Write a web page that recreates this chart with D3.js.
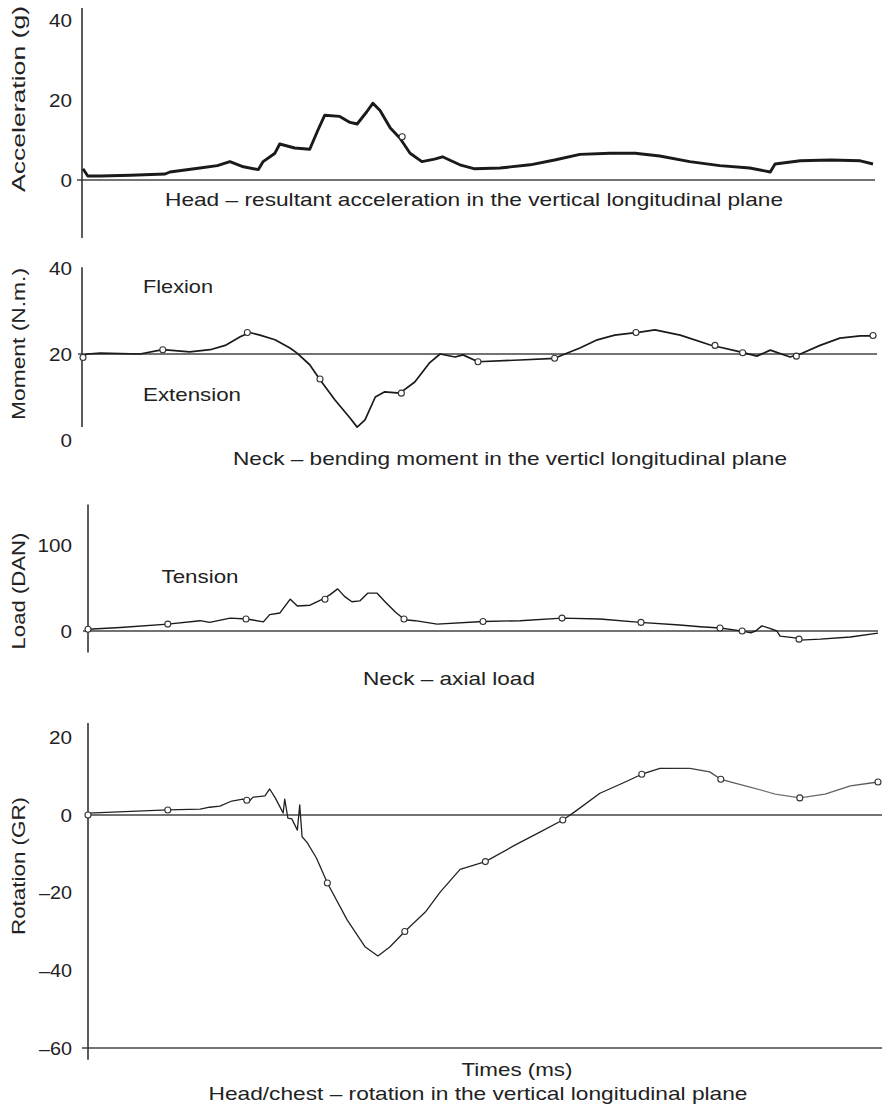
<!DOCTYPE html>
<html>
<head>
<meta charset="utf-8">
<script src="https://cdn.jsdelivr.net/npm/d3@7"></script>
<style>
  body { margin: 0; background: #fff; }
  text { font-family: "Liberation Sans", Arial, Helvetica, sans-serif; fill: #222; }
</style>
</head>
<body>
<div id="chart"></div>
<script>
// time is in arbitrary units (0-100), no ticks on the x axis in the original
const accel = [[0,2.8],[0.6,1],[2.2,1],[6,1.2],[10.4,1.5],[11,2],[14.8,3],[17,3.6],[18.6,4.6],[20.3,3.3],
  [22.2,2.6],[22.8,4.6],[24.3,6.7],[24.9,9],[26.8,8],[28.7,7.7],[29.7,12.3],[30.6,16.2],[32.5,15.9],
  [33.8,14.4],[34.7,14],[35.9,17],[36.7,19.2],[37.6,17.4],[38.9,13],[40.1,10.5],[41.4,6.7],[42.9,4.6],
  [44.5,5.2],[45.5,5.8],[47.7,3.8],[49.6,2.8],[52.8,3],[56.6,3.8],[59.7,5],[62.9,6.4],[66.7,6.7],
  [69.9,6.7],[73,6],[76.8,4.6],[80.6,3.6],[84.4,3],[87,2],[87.6,4],[90.8,4.8],[94.6,5],[98.4,4.8],[100,4]];
const accelMarks = [[40.4,10.8]];

const moment = [[0,19.5],[0.5,20],[2.2,20.2],[7.2,20],[10.1,21],[13.5,20.5],[16.1,21],[18,22],[19.9,24],
  [21.1,25],[22.4,24.4],[24.3,23.3],[26.2,21.4],[27.1,20.2],[28.7,17.5],[30,14],[31.9,9.3],[33.8,5.1],
  [34.7,3],[35.7,4.7],[37,10],[38.2,11.2],[40.1,10.9],[42,13.5],[43.9,18],[45.2,20],[47.1,19.3],
  [48.1,19.8],[50,18.2],[55.3,18.6],[59.7,19],[61,20],[62.9,21.4],[65.1,23.3],[67.3,24.4],[70.5,25.1],
  [72.4,25.6],[75.6,24.4],[79.4,22.1],[83.2,20.5],[85.3,19.5],[87,20.9],[89.5,19.3],[90.8,20],
  [93.3,22],[95.8,23.7],[98.4,24.2],[100.4,24.2]];
const momentMarks = [[0,19.2],[10.1,21],[20.8,25],[30,14.2],[40.3,10.9],[50,18.2],[59.7,19],[70,25],
  [80,22],[83.5,20.3],[90.3,19.5],[100,24.3]];

const load = [[0,2],[4.1,4],[10.1,8],[14.2,12],[15.4,10],[18,15],[20.1,14],[22.2,10.6],[23,19],[24.3,21],
  [25.6,37],[26.5,29],[28.1,30],[29.7,37],[30.6,42],[31.6,49],[32.5,40],[33.4,34],[34.4,35],[35.4,44],
  [36.6,44],[37.6,34],[38.9,22],[40.1,13],[41.4,12],[44.2,8],[50,11],[54.7,12],[60,15],[64.8,14],
  [69.9,10],[74.9,7],[77.5,5],[80,3.5],[82,1],[83.3,-1],[83.9,-2],[84.5,0],[85.3,6],[86.3,3],[87.2,0],
  [87.6,-6],[89.5,-8],[90.1,-10.6],[92.7,-9.5],[96.5,-7],[100,-2.5]];
const loadMarks = [[0,2],[10.1,8],[20,14],[30,37],[40,14],[50,11],[60,15],[70,10],[80,3.5],[82.8,0],[90,-9.5]];

const rotation = [[0,0.5],[10.1,1.3],[14.2,1.5],[15.4,2],[16.7,2.3],[18.2,3.6],[19.6,4.1],[20.3,3.3],
  [20.9,4.6],[22.4,4.9],[23,6.7],[23.7,4.4],[24.3,2.1],[24.7,0.5],[24.9,4.1],[25.3,-0.8],[25.8,-1],
  [26.5,-3.9],[26.8,2.6],[27.1,-5.6],[27.7,-7],[28.9,-11],[30.3,-17.5],[32.8,-27],[35.1,-34],
  [36.7,-36.3],[38.2,-34],[40.1,-30],[42.7,-25],[44.6,-19.8],[47.1,-14],[50.3,-12],[54.1,-7.7],
  [57.2,-4.4],[60.1,-1.3],[61.6,0.8],[64.8,5.6],[68,8.5],[70.1,10.5],[72.4,12],[76.2,12],[78.7,11.1],
  [80.1,9.2],[83.8,7.2],[87,5.4],[90.1,4.4],[93.3,5.4],[96.5,7.5],[100,8.5]];
const rotationMarks = [[0,0],[10.1,1.3],[20.1,3.8],[30.3,-17.5],[40.1,-30],[50.3,-12],[60.1,-1.3],
  [70.1,10.5],[80.1,9.2],[90.1,4.4],[100,8.5]];

const accelTicks = [0, 20, 40];
const momentTicks = [0, 20, 40];
const loadTicks = [0, 100];
const rotationTicks = [20, 0, -20, -40, -60];

const width = 883, height = 1106;

const svg = d3.select("#chart")
  .append("svg")
  .attr("width", width)
  .attr("height", height);

// fading stroke for the rotation trace (lighter towards the right like the scan)
const grad = svg.append("defs").append("linearGradient")
  .attr("id", "fade")
  .attr("gradientUnits", "userSpaceOnUse")
  .attr("x1", 88).attr("x2", 880).attr("y1", 0).attr("y2", 0);
grad.append("stop").attr("offset", "0.72").attr("stop-color", "#222");
grad.append("stop").attr("offset", "0.86").attr("stop-color", "#777");
grad.append("stop").attr("offset", "1").attr("stop-color", "#555");

const panels = [
  { data: accel, marks: accelMarks, ticks: accelTicks, title: "Acceleration (g)", titleY: 99, titleLen: 186,
    x0: 83, axisX: 82, yDomain: [0, 40], yRange: [180, 20], axisExtent: [43, -14.5],
    refLines: [{ v: 0, from: 77, to: 875 }], stroke: "#1a1a1a", sw: 2.9 },
  { data: moment, marks: momentMarks, ticks: momentTicks, title: "Moment (N.m.)", titleY: 344, titleLen: 152,
    x0: 83, axisX: 82, yDomain: [0, 40], yRange: [440, 268], axisExtent: [40.2, 3],
    refLines: [{ v: 20, from: 78, to: 877 }], stroke: "#1a1a1a", sw: 1.7 },
  { data: load, marks: loadMarks, ticks: loadTicks, title: "Load (DAN)", titleY: 591, titleLen: 117,
    x0: 88, axisX: 88, yDomain: [0, 100], yRange: [631, 545], axisExtent: [147, -25],
    refLines: [{ v: 0, from: 83, to: 878 }], stroke: "#1a1a1a", sw: 1.4 },
  { data: rotation, marks: rotationMarks, ticks: rotationTicks, title: "Rotation (GR)", titleY: 866, titleLen: 138,
    x0: 88, axisX: 88, yDomain: [0, -60], yRange: [815, 1048], axisExtent: [23.7, -63],
    refLines: [{ v: 0, from: 88, to: 882 }, { v: -60, from: 82, to: 882 }], stroke: "url(#fade)", sw: 1.3 }
];

const fmt = d => d < 0 ? "\u2013" + Math.abs(d) : String(d);
// the scanned lettering is wider than Liberation Sans, so stretch labels to the measured widths
const labelLen = d => String(Math.abs(d)).length * 11.5 + (d < 0 ? 10 : 0);

panels.forEach(p => {
  let x = d3.scaleLinear().domain([0, 100]).range([p.x0, p.x0 + 790]);
  let y = d3.scaleLinear().domain(p.yDomain).range(p.yRange);

  let g = svg.append("g");

  // reference lines
  g.selectAll(".ref")
    .data(p.refLines)
    .enter()
    .append("line")
    .attr("x1", d => d.from)
    .attr("x2", d => d.to)
    .attr("y1", d => y(d.v))
    .attr("y2", d => y(d.v))
    .attr("stroke", "#444")
    .attr("stroke-width", 1.4);

  // vertical axis line
  g.append("line")
    .attr("x1", p.axisX).attr("x2", p.axisX)
    .attr("y1", y(p.axisExtent[0]))
    .attr("y2", y(p.axisExtent[1]))
    .attr("stroke", "#333")
    .attr("stroke-width", 1.6);

  // tick labels
  let yAxisCall = d3.axisLeft(y)
    .tickValues(p.ticks)
    .tickSize(0)
    .tickPadding(p.axisX - 72)
    .tickFormat(fmt);
  let ax = g.append("g")
    .attr("transform", "translate(" + p.axisX + ",0)")
    .call(yAxisCall);
  ax.select(".domain").remove();
  ax.selectAll("text")
    .attr("font-size", 19)
    .attr("font-family", "Liberation Sans, Arial, sans-serif")
    .attr("fill", "#222")
    .attr("textLength", d => labelLen(d))
    .attr("lengthAdjust", "spacingAndGlyphs");

  // y title
  g.append("text")
    .attr("transform", "translate(25," + p.titleY + ") rotate(-90)")
    .attr("text-anchor", "middle")
    .attr("font-size", 19)
    .attr("textLength", p.titleLen)
    .attr("lengthAdjust", "spacingAndGlyphs")
    .text(p.title);

  // trace
  g.append("path")
    .datum(p.data)
    .attr("fill", "none")
    .attr("stroke", p.stroke)
    .attr("stroke-width", p.sw)
    .attr("stroke-linejoin", "round")
    .attr("d", d3.line()
      .x(d => x(d[0]))
      .y(d => y(d[1]))
    );

  // small circle markers on the trace
  g.selectAll(".mark")
    .data(p.marks)
    .enter()
    .append("circle")
    .attr("cx", d => x(d[0]))
    .attr("cy", d => y(d[1]))
    .attr("r", 3)
    .attr("fill", "#fff")
    .attr("stroke", "#333")
    .attr("stroke-width", 1.1);
});

// annotations and captions
const notes = [
  { text: "Head \u2013 resultant acceleration in the vertical longitudinal plane", x: 474, y: 206, len: 618 },
  { text: "Flexion", x: 178, y: 293, len: 70 },
  { text: "Extension", x: 192, y: 401, len: 98 },
  { text: "Neck \u2013 bending moment in the verticl longitudinal plane", x: 510, y: 465, len: 554 },
  { text: "Tension", x: 200, y: 583, len: 77 },
  { text: "Neck \u2013 axial load", x: 449, y: 685, len: 172 },
  { text: "Times (ms)", x: 517, y: 1076, len: 111 },
  { text: "Head/chest \u2013 rotation in the vertical longitudinal plane", x: 478, y: 1100, len: 539 }
];

svg.append("g")
  .selectAll("text")
  .data(notes)
  .enter()
  .append("text")
  .attr("x", d => d.x)
  .attr("y", d => d.y)
  .attr("text-anchor", "middle")
  .attr("font-size", 19)
  .attr("textLength", d => d.len)
  .attr("lengthAdjust", "spacingAndGlyphs")
  .text(d => d.text);
</script>
</body>
</html>
